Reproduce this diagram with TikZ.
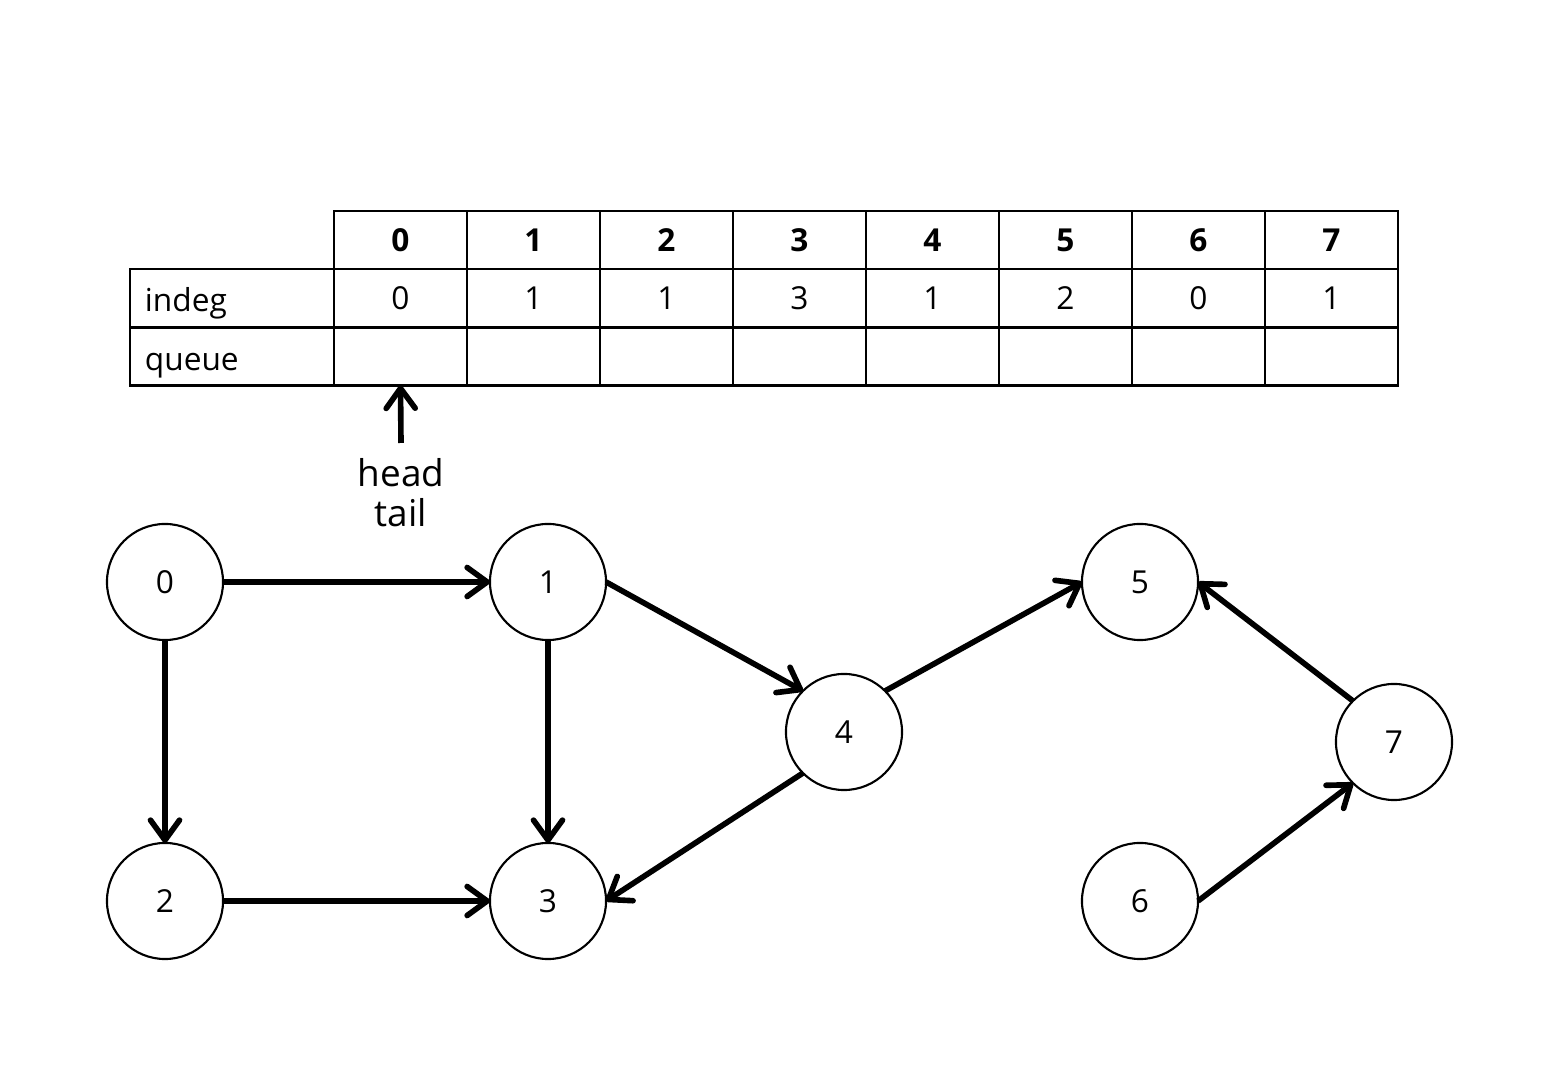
\documentclass[tikz,border=0pt]{standalone}
\usepackage{fontspec}
\setmainfont{Open Sans}
\usetikzlibrary{arrows.meta}

\begin{document}
\begin{tikzpicture}[x=0.01cm,y=-0.01cm,
	vertex/.style={draw, circle, line width=0.6pt, minimum size=1.16cm, inner sep=0pt, outer sep=0pt, font=\fontsize{9}{11}\selectfont},
	cell/.style={draw, line width=0.6pt, minimum width=1.33cm, minimum height=0.58cm, inner sep=0pt, outer sep=0pt, font=\fontsize{9}{11}\selectfont},
	rowlabel/.style={cell, minimum width=2.04cm, text width=1.74cm, align=left, text height=0.34cm, text depth=0.06cm},
	edge/.style={line width=1.6pt, -{Straight Barb[length=2mm,width=2.9mm,round]}}]
	\useasboundingbox (0,0) rectangle (1560,1080);
	% table of in-degrees
	\node[rowlabel] (lindeg) at (232,298) {indeg};
	\node[rowlabel] (lqueue) at (232,356.5) {queue};
	\foreach \i/\deg in {0/0,1/1,2/1,3/3,4/1,5/2,6/0,7/1}
	{
		\node[cell, font=\fontsize{9}{11}\selectfont\bfseries] (h\i) at (400.5+133*\i,240) {\i};
		\node[cell] (d\i) at (400.5+133*\i,298) {\deg};
		\node[cell] (q\i) at (400.5+133*\i,356.5) {};
	}
	\node[anchor=north, align=center, inner sep=0.15cm, font=\fontsize{10.5}{11.4}\selectfont] (ht) at (401,443) {head\\tail};
	\draw[edge] (ht.north) -- (q0.south);
	% graph
	\foreach \n/\x/\y in {0/165/582, 1/548/582, 2/165/901, 3/548/901, 4/844/732, 5/1140/582, 6/1140/901, 7/1394/742}
		\node[vertex] (v\n) at (\x,\y) {\n};
	\draw[edge] (v0) -- (v1);
	\draw[edge] (v0) -- (v2);
	\draw[edge] (v1) -- (v3);
	\draw[edge] (v2) -- (v3);
	\draw[edge] (v1.east) -- (v4.north west);
	\draw[edge] (v4.north east) -- (v5.west);
	\draw[edge] (v4.south west) -- (v3.east);
	\draw[edge] (v7.north west) -- (v5.east);
	\draw[edge] (v6.east) -- (v7.south west);
\end{tikzpicture}
\end{document}
